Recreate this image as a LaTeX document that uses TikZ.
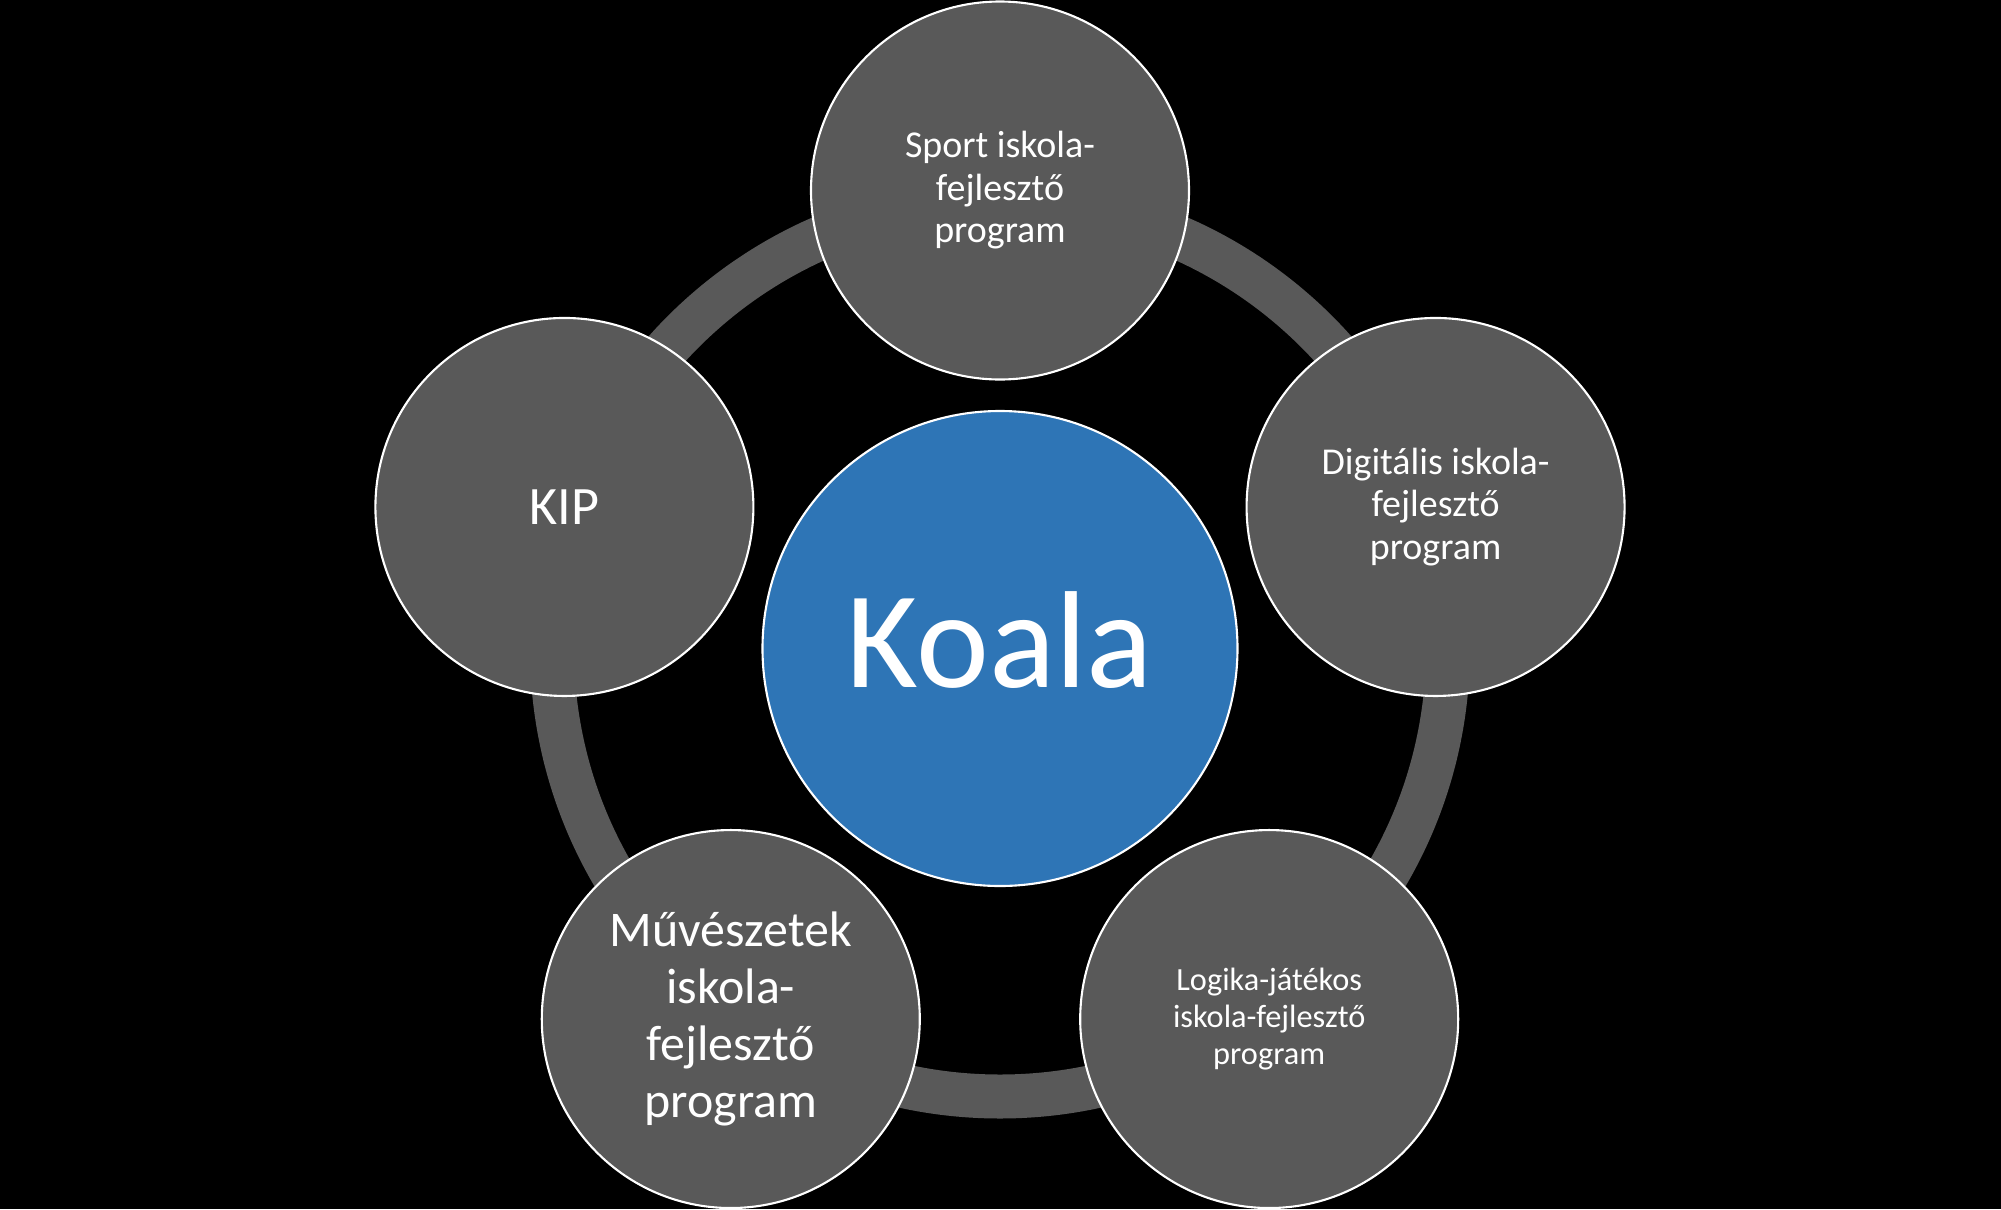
\documentclass[tikz,border=0pt]{standalone}
\usepackage{fontspec}
\setmainfont{Carlito}
\definecolor{satgray}{HTML}{595959}
\definecolor{hubblue}{HTML}{2E75B6}
\begin{document}
\begin{tikzpicture}[
    x=1cm,y=1cm,
    hub/.style={
        circle,
        draw=white,
        line width=0.6pt,
        fill=hubblue,
        minimum size=4.75cm,
        inner sep=0pt,
        text=white,
        font=\fontsize{39.3}{45}\selectfont,
        align=center
    },
    sat/.style={
        circle,
        draw=white,
        line width=0.6pt,
        fill=satgray,
        minimum size=3.78cm,
        inner sep=0pt,
        text=white,
        font=\fontsize{10.8}{12.1}\selectfont,
        align=center
    },
    ring/.style={draw=satgray, line width=0.44cm}
]

    % background
    \fill[black] (-10.0,-5.605) rectangle (10.01,6.485);
    \useasboundingbox (-10.0,-5.605) rectangle (10.01,6.485);

    % ring
    \draw[ring] (0,0) circle (4.48);

    % centre
    \node[hub] (koala) at (0,0) {\raisebox{0.18cm}{Koala}};

    % satellites
    \node[sat] (sport) at (90:4.58) {Sport iskola-\\fejlesztő\\program};
    \node[sat] (digit) at (18:4.58) {Digitális iskola-\\fejlesztő\\program};
    \node[sat, font=\fontsize{9.2}{10.4}\selectfont] (logika) at (-54:4.58) {Logika-játékos\\iskola-fejlesztő\\program};
    \node[sat, font=\fontsize{14.2}{16.2}\selectfont] (muv) at (-126:4.58) {Művészetek\\iskola-\\fejlesztő\\program};
    \node[sat, font=\fontsize{15.4}{17}\selectfont] (kip) at (162:4.58) {KIP};

\end{tikzpicture}
\end{document}
